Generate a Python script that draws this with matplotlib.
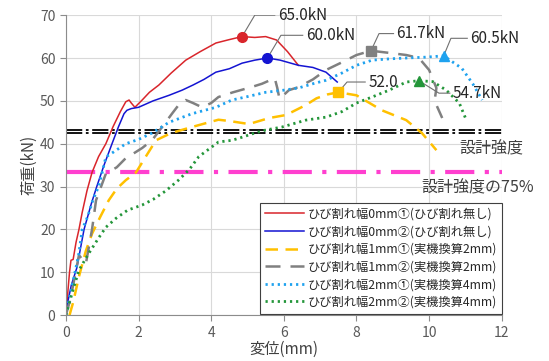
import matplotlib

matplotlib.use("Agg")
import matplotlib.pyplot as plt

plt.rcParams["font.family"] = ["Noto Sans CJK JP", "DejaVu Sans"]

# crack width 0mm (1)
red_x = [0, 0.05, 0.1, 0.14, 0.2, 0.28, 0.36, 0.45, 0.58, 0.72, 0.9, 1.1, 1.3,
         1.5, 1.65, 1.74, 1.8, 1.9, 2.1, 2.3, 2.56, 2.9, 3.3, 3.7, 4.13, 4.5,
         4.85, 5.2, 5.5, 5.8, 6.1, 6.4]
red_y = [0, 5, 10, 12.8, 13, 17, 20, 24, 29, 33.3, 37, 40, 44, 47.5, 49.8,
         50.2, 49.5, 48.5, 50.2, 52, 53.7, 56.5, 59.5, 61.5, 63.5, 64.3, 65.0,
         64.8, 65.0, 64.2, 61.5, 58.3]
# crack width 0mm (2)
blue_x = [0, 0.05, 0.15, 0.3, 0.5, 0.7, 0.85, 1.05, 1.27, 1.45, 1.6, 1.68, 1.8,
          2.0, 2.4, 2.84, 3.2, 3.5, 3.8, 4.13, 4.5, 4.85, 5.2, 5.55, 5.9, 6.4,
          6.8, 7.16, 7.47]
blue_y = [0, 3, 7, 11, 20, 26, 30, 35, 40, 44, 47, 47.8, 48.2, 48.5, 50, 51.3,
          52.5, 53.7, 55, 56.7, 57.5, 58.8, 59.5, 60.0, 59.5, 58.3, 57.8, 56.7,
          54.4]
# crack width 1mm (1)
orange_x = [0.1, 0.2, 0.36, 0.55, 0.72, 0.95, 1.18, 1.4, 1.65, 1.93, 2.2, 2.48,
            2.9, 3.47, 3.94, 4.2, 4.5, 5.04, 5.6, 6.06, 6.6, 6.9, 7.2, 7.5, 8.0,
            8.7, 9.37, 9.8, 10.2]
orange_y = [0, 3, 9, 15, 19, 23, 26.8, 29.5, 31.5, 33.3, 37, 40.8, 42.5, 43.9,
            45, 45.6, 45.3, 44.6, 46, 46.7, 49, 50.6, 51.5, 52.0, 51.3, 47.8,
            45.5, 42.5, 38.5]
# crack width 1mm (2)
gray_x = [0, 0.1, 0.2, 0.36, 0.55, 0.72, 0.83, 1.1, 1.4, 1.68, 1.82, 2.1, 2.37,
          2.65, 2.92, 3.1, 3.3, 3.5, 3.75, 4.0, 4.2, 4.6, 5.1, 5.4, 5.75, 5.82,
          5.88, 5.95, 6.14, 6.4, 6.8, 7.16, 7.6, 8.0, 8.4, 8.9, 9.37, 9.72, 10.0,
          10.2, 10.15, 10.36]
gray_y = [0, 3, 7, 14, 12, 20, 26.8, 33, 34.5, 36.9, 37.5, 39, 40.8, 43.9, 47,
          49, 50.2, 49.5, 48.5, 49.5, 50.9, 52, 53.2, 54, 55.3, 53, 50.5, 51,
          52.5, 53.2, 55, 57.2, 59, 60.7, 61.7, 61.2, 60.7, 60, 57.2, 53, 50, 46]
# crack width 2mm (1)
cyan_x = [0, 0.1, 0.25, 0.35, 0.45, 0.6, 0.75, 0.9, 1.0, 1.1, 1.3, 1.65, 2.0,
          2.37, 2.84, 3.47, 4.13, 4.57, 5.0, 5.5, 6.0, 6.4, 6.8, 7.16, 7.6, 8.0,
          8.43, 8.9, 9.37, 9.9, 10.4, 10.9, 11.2, 11.46]
cyan_y = [0, 4, 10, 14, 20, 23, 27, 30, 33.3, 36.9, 38, 40, 41, 42.5, 45, 47,
          48.5, 50.2, 51, 52, 52.5, 53, 54, 54.8, 56.5, 58.3, 59.5, 59.8, 60,
          60.2, 60.5, 57.6, 54, 50.2]
# crack width 2mm (2)
green_x = [0, 0.1, 0.2, 0.36, 0.6, 0.9, 1.1, 1.38, 1.7, 2.1, 2.4, 2.75, 3.1,
           3.4, 3.66, 4.2, 4.57, 4.77, 5.2, 5.5, 5.95, 6.4, 6.6, 7.16, 7.6, 8.0,
           8.43, 8.9, 9.37, 9.72, 10.1, 10.47, 10.83, 11.0]
green_y = [0, 3, 6, 10.5, 14, 18, 20.5, 22.6, 24.5, 25.7, 27, 29, 31.5, 34, 37,
           40.4, 40.8, 41.3, 42.5, 43.2, 43.9, 45, 45.5, 46.2, 47.5, 49.5, 50.9,
           52.5, 54.4, 54.7, 54.5, 52.5, 49.5, 46]

labels = [
    "ひび割れ幅0mm①(ひび割れ無し)",
    "ひび割れ幅0mm②(ひび割れ無し)",
    "ひび割れ幅1mm①(実機換算2mm)",
    "ひび割れ幅1mm②(実機換算2mm)",
    "ひび割れ幅2mm①(実機換算4mm)",
    "ひび割れ幅2mm②(実機換算4mm)",
]

# peak points (order follows the legend)
peak_x = [4.85, 5.55, 7.5, 8.4, 10.4, 9.72]
peak_y = [65.0, 60.0, 52.0, 61.7, 60.5, 54.7]
peak_text = ["65.0kN", "60.0kN", "52.0", "61.7kN", "60.5kN", "54.7kN"]

design_strength = 42.8
design_75 = 33.3

colors = ["#d9252b", "#1414d2", "#ffc000", "#808080", "#1fa2ef", "#24963a"]
markers = ["o", "o", "s", "s", "^", "^"]

fig, ax = plt.subplots(figsize=(5.49, 3.61), dpi=100)
fig.subplots_adjust(left=0.12, right=0.914, top=0.958, bottom=0.127)

series = [(red_x, red_y), (blue_x, blue_y), (orange_x, orange_y),
          (gray_x, gray_y), (cyan_x, cyan_y), (green_x, green_y)]
styles = [
    dict(lw=1.1, ls="-"),
    dict(lw=1.1, ls="-"),
    dict(lw=1.8, ls=(0, (5, 3))),
    dict(lw=1.8, ls=(0, (6, 4))),
    dict(lw=2.0, ls=(0, (0.8, 1.4))),
    dict(lw=2.0, ls=(0, (0.8, 1.4))),
]
for (xs, ys), c, st, lab in zip(series, colors, styles, labels):
    ax.plot(xs, ys, color=c, label=lab, **st)

# design strength lines
ax.axhline(design_strength + 0.4, color="black", lw=1.3,
           ls=(0, (9, 2, 1.5, 2)), zorder=1)
ax.axhline(design_strength - 0.4, color="black", lw=1.3,
           ls=(0, (9, 2, 1.5, 2)), zorder=1)
ax.axhline(design_75, color="#ff3fcf", lw=3.0, ls=(0, (7, 2.5, 1, 2.5)),
           zorder=1)
ax.text(10.83, 38.9, "設計強度", fontsize=11.5, color="#404040",
        va="center", clip_on=False)
ax.text(9.78, 29.6, "設計強度の75%", fontsize=11.5, color="#404040",
        va="center", clip_on=False)

# peak markers with leader lines
offsets = [(0.35, 5.0, 0.55), (0.37, 5.3, 0.6), (0.24, 2.4, 0.5),
           (0.22, 4.0, 0.4), (0.2, 4.1, 0.45), (0.55, -2.9, 0.3)]
for px, py, txt, c, m, (dx, dy, dl) in zip(peak_x, peak_y, peak_text,
                                           colors, markers, offsets):
    ax.plot([px, px + dx, px + dx + dl], [py, py + dy, py + dy],
            color="#707070", lw=0.8, zorder=3)
    ax.plot(px, py, marker=m, color=c, ms=7, ls="none", zorder=4)
    ax.text(px + dx + dl + 0.08, py + dy, txt, fontsize=11, color="#262626",
            va="center", zorder=5)

ax.set_xlim(0, 12)
ax.set_ylim(0, 70)
ax.set_xticks(range(0, 13, 2))
ax.set_yticks(range(0, 71, 10))
ax.grid(color="#d9d9d9", lw=0.8)
ax.set_axisbelow(True)
for side in ["top", "right"]:
    ax.spines[side].set_visible(False)
for side in ["left", "bottom"]:
    ax.spines[side].set_color("#8c8c8c")
ax.tick_params(colors="#8c8c8c", labelcolor="#595959", labelsize=10,
               direction="out", length=4)
ax.set_xlabel("変位(mm)", fontsize=11, color="#404040", labelpad=1)
ax.set_ylabel("荷重(kN)", fontsize=11, color="#404040", labelpad=2)

leg = ax.legend(loc="upper right", bbox_to_anchor=(1.0, 0.375), fontsize=8.8,
                handlelength=3.2, labelspacing=0.38, borderpad=0.4,
                handletextpad=0.3, borderaxespad=0, fancybox=False,
                framealpha=1)
leg.get_frame().set_edgecolor("#404040")
leg.get_frame().set_linewidth(0.8)
for t in leg.get_texts():
    t.set_color("#262626")

fig.savefig("out.png", dpi=100)
